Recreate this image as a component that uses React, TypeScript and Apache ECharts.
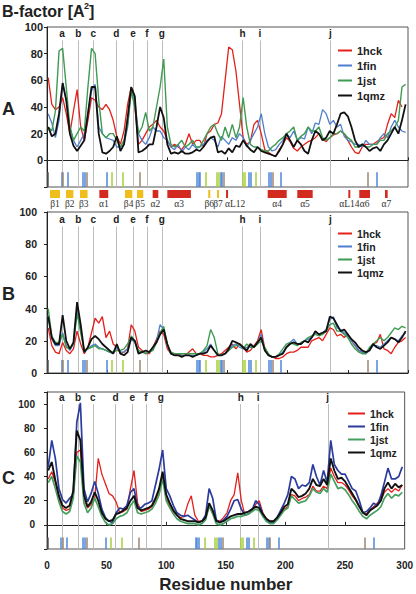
import React, { useEffect, useRef } from "react";
import * as echarts from "echarts";

// residue sampling grid (every 3 residues)
const RESIDUES: number[] = Array.from({ length: 100 }, (_, i) => 1 + 3 * i);

// ---------- Panel A ----------
const A_HCK = [
  62, 42, 38, 40, 47, 35, 20, 37, 53, 25,
  15, 30, 47, 45, 40, 38, 42, 38, 30, 18,
  12, 22, 42, 55, 40, 12, 15, 20, 25, 27,
  30, 25, 22, 15, 10, 12, 10, 8, 12, 20,
  12, 15, 15, 10, 20, 22, 27, 28, 35, 60,
  85, 83, 67, 42, 17, 12, 14, 27, 30, 20,
  8, 6, 4, 3, 8, 12, 17, 14, 9, 7,
  10, 12, 14, 15, 17, 20, 16, 14, 17, 19,
  20, 22, 20, 15, 10, 6, 5, 10, 12, 12,
  12, 14, 16, 17, 27, 35, 32, 45, 40, null,
];
const A_FIN = [
  35, 28, 17, 30, 58, 45, 25, 15, 10, 15,
  20, 35, 52, 57, 25, 20, 17, 16, 15, 10,
  10, 12, 25, 52, 45, 20, 15, 12, 17, 25,
  22, 22, 17, 15, 10, 8, 12, 6, 10, 8,
  12, 9, 10, 12, 15, 17, 15, 10, 18, 15,
  12, 17, 15, 20, 17, 10, 15, 20, 25, 35,
  20, 10, 7, 8, 12, 15, 20, 17, 22, 15,
  17, 16, 25, 20, 28, 27, 38, 35, 27, 30,
  25, 27, 18, 15, 14, 12, 12, 10, 15, 12,
  12, 12, 17, 20, 17, 25, 30, 25, 22, 21,
];
const A_JST = [
  25, 22, 37, 82, 84, 55, 25, 15, 20, 25,
  22, 55, 84, 80, 45, 20, 17, 20, 20, 15,
  10, 15, 27, 52, 40, 20, 25, 36, 22, 25,
  40, 55, 76, 25, 12, 10, 12, 15, 10, 12,
  15, 10, 10, 15, 20, 25, 27, 20, 15, 25,
  17, 27, 17, 25, 47, 25, 12, 10, 10, 8,
  7, 7, 10, 12, 15, 17, 20, 22, 25, 15,
  18, 20, 25, 22, 22, 25, 17, 15, 17, 20,
  20, 22, 20, 17, 15, 10, 10, 12, 10, 10,
  12, 12, 15, 15, 20, 22, 25, 30, 55, 57,
];
const A_QMZ = [
  25, 18, 20, 35, 58, 45, 20, 11, 7, 11,
  15, 35, 55, 55, 20, 6, 5, 7, 10, 18,
  7, 12, 32, 55, 48, 6, 7, 9, 12, 12,
  25, 40, 32, 12, 5, 6, 5, 7, 5, 5,
  6, 8, 7, 10, 14, 17, 18, 6, 7, 5,
  9, 6, 11, 10, 15, 11, 8, 6, 10, 7,
  6, 5, 4, 3, 7, 12, 20, 15, 10, 15,
  12, 7, 5, 15, 22, 20, 15, 17, 22, 20,
  27, 35, 36, 33, 25, 15, 10, 12, 10, 7,
  9, 10, 7, 12, 15, 20, 25, 20, 30, 42,
];

// ---------- Panel B ----------
const B_HCK = [
  28, 17, 13, 12, 19, 14, 12, 15, 26, 18,
  12, 16, 25, 34, 31, 35, 22, 26, 18, 16,
  12, 13, 15, 30, 26, 16, 14, 12, 12, 16,
  21, 26, 24, 15, 12, 11, 12, 11, 11, 13,
  15, 12, 12, 11, 11, 10, 10, 11, 12, 14,
  16, 18, 15, 18, 16, 13, 14, 17, 20, 27,
  15, 11, 10, 9, 9, 10, 12, 13, 13, 14,
  16, 16, 16, 20, 21, 22, 20, 24, 28, 27,
  23, 24, 22, 24, 20, 17, 14, 13, 12, 15,
  18, 19, 24, 15, 14, 12, 16, 19, 20, 22,
];
const B_FIN = [
  36, 21, 17, 17, 25, 17, 14, 18, 40, 27,
  13, 15, 17, 18, 16, 15, 14, 13, 12, 16,
  13, 13, 15, 21, 19, 13, 13, 13, 13, 15,
  20, 30, 27, 17, 12, 11, 11, 11, 11, 11,
  11, 11, 12, 13, 15, 18, 14, 11, 11, 12,
  14, 17, 18, 16, 15, 16, 17, 16, 19, 24,
  14, 11, 10, 10, 11, 13, 16, 19, 21, 18,
  18, 20, 21, 22, 25, 24, 25, 27, 33, 35,
  28, 27, 25, 23, 20, 17, 14, 13, 12, 14,
  17, 17, 16, 18, 20, 22, 21, 20, 23, 25,
];
const B_JST = [
  40, 23, 19, 19, 24, 16, 15, 18, 37, 25,
  14, 15, 16, 17, 15, 15, 14, 13, 13, 14,
  14, 15, 18, 23, 20, 14, 13, 12, 13, 14,
  19, 25, 29, 17, 13, 12, 12, 12, 12, 12,
  12, 12, 12, 14, 17, 27, 22, 12, 11, 12,
  14, 16, 17, 18, 15, 18, 16, 16, 18, 20,
  16, 12, 10, 10, 12, 15, 18, 19, 18, 17,
  19, 20, 22, 23, 24, 23, 24, 26, 30, 31,
  26, 26, 24, 22, 18, 15, 13, 12, 12, 16,
  18, 20, 22, 20, 22, 25, 28, 27, 29, 28,
];
const B_QMZ = [
  35, 22, 18, 18, 36, 20, 15, 19, 44, 30,
  13, 16, 21, 23, 21, 18, 16, 14, 12, 18,
  12, 11, 13, 22, 20, 12, 13, 14, 13, 16,
  19, 24, 27, 18, 12, 11, 11, 10, 11, 11,
  10, 11, 12, 12, 13, 17, 14, 11, 11, 12,
  15, 20, 19, 18, 16, 14, 18, 16, 19, 22,
  14, 11, 10, 10, 11, 12, 16, 18, 19, 18,
  18, 20, 19, 22, 26, 24, 25, 26, 35, 34,
  30, 26, 27, 24, 21, 19, 16, 14, 13, 14,
  18, 16, 15, 17, 19, 22, 21, 19, 22, 26,
];

// ---------- Panel C ----------
const C_HCK = [
  38, 44, 35, 22, 14, 12, 13, 25, 60, 62,
  22, 14, 17, 22, 55, 42, 34, 26, 24, 19,
  10, 11, 13, 30, 45, 18, 11, 12, 13, 15,
  20, 28, 40, 22, 16, 11, 8, 6, 7, 17,
  24, 8, 3, 3, 5, 15, 10, 4, 3, 6,
  10, 20, 25, 43, 20, 8, 9, 12, 17, 20,
  10, 5, 3, 3, 5, 9, 13, 15, 25, 24,
  20, 22, 23, 25, 32, 28, 28, 32, 30, 47,
  40, 35, 35, 33, 29, 24, 20, 15, 10, 9,
  12, 15, 18, 20, 27, 30, 27, 30, 28, 33,
];
const C_FIN = [
  48, 70, 55, 30, 21, 18, 22, 25, 85, 101,
  30, 19, 26, 36, 26, 13, 6, 3, 2, 10,
  14, 13, 16, 27, 30, 15, 14, 17, 18, 20,
  33, 46, 62, 30, 24, 16, 10, 8, 7, 8,
  6, 4, 2, 3, 8, 30, 22, 4, 2, 4,
  7, 13, 20, 21, 13, 8, 9, 12, 20, 17,
  9, 4, 2, 2, 6, 12, 18, 25, 40, 38,
  30, 33, 32, 35, 50, 40, 33, 45, 35, 70,
  50, 45, 42, 42, 36, 30, 28, 20, 10, 11,
  14, 18, 16, 24, 35, 47, 38, 38, 40, 48,
];
const C_JST = [
  35, 40, 30, 19, 11, 9, 11, 22, 57, 52,
  18, 10, 14, 22, 15, 7, 2, 0, 1, 5,
  7, 8, 10, 16, 20, 10, 9, 10, 11, 13,
  18, 25, 38, 20, 14, 9, 5, 3, 2, 1,
  1, 1, 0, 1, 4, 16, 9, 1, 0, 1,
  3, 5, 6, 7, 7, 8, 9, 11, 13, 12,
  7, 3, 1, 1, 4, 8, 12, 14, 24, 21,
  18, 19, 20, 24, 30, 27, 26, 30, 27, 42,
  36, 30, 31, 29, 25, 20, 16, 11, 7, 5,
  8, 10, 12, 15, 22, 26, 22, 25, 24, 27,
];
const C_QMZ = [
  45, 52, 37, 24, 16, 14, 16, 28, 78, 70,
  25, 15, 19, 27, 20, 10, 5, 3, 4, 9,
  10, 12, 14, 20, 24, 14, 12, 13, 14, 16,
  22, 30, 44, 25, 18, 12, 8, 5, 4, 3,
  3, 3, 2, 3, 6, 18, 12, 3, 2, 3,
  5, 7, 8, 9, 9, 10, 11, 13, 15, 14,
  9, 5, 3, 3, 6, 10, 15, 17, 30, 27,
  23, 24, 26, 30, 38, 33, 32, 38, 33, 55,
  45, 38, 39, 36, 31, 26, 21, 15, 10, 8,
  12, 14, 16, 20, 30, 35, 30, 34, 31, 33,
];

const SERIES_NAMES = ["1hck", "1fin", "1jst", "1qmz"];

// reference lines a..j
const MARK_LETTERS = ["a", "b", "c", "d", "e", "f", "g", "h", "i", "j"];
const MARK_RES = [12.5, 26, 38.5, 57.5, 71.5, 83, 95.5, 162.5, 177, 235.5];

// coloured residue ticks (b = blue, g = green, n = brown, k = dark)
const TICK_RES = [0.8, 11.9, 13.5, 16.9, 29.9, 31.3, 33, 49.6, 53.8, 62.9, 77, 124.4, 125.7, 127.1, 131.9, 141, 142.4, 144.4, 145.6, 147.1, 162.3, 164, 167.9, 169.5, 173.4, 184.5, 185.9, 187.2, 194.5, 266.5, 274];
const TICK_KIND = ["k", "b", "n", "b", "b", "b", "n", "b", "g", "g", "n", "b", "b", "b", "g", "g", "g", "b", "b", "n", "g", "g", "b", "b", "g", "b", "b", "n", "b", "n", "b"];

// secondary structure (0 = strand, 1 = helix)
const SS_NAMES = ["β1", "β2", "β3", "α1", "β4", "β5", "α2", "α3", "β6", "β7", "αL12", "α4", "α5", "αL14", "α6", "α7"];
const SS_START = [2.5, 15.8, 27.4, 43.5, 64.8, 74.8, 87.8, 100, 134, 141.3, 148.8, 183.4, 208, 250.4, 259.5, 280.9];
const SS_END = [10.8, 21.9, 33.7, 50.9, 70.9, 80, 92.5, 119.6, 135.5, 142.7, 150.4, 199.2, 220.8, 251.8, 268.4, 283.1];
const SS_TYPE = [0, 0, 0, 1, 0, 0, 1, 1, 0, 0, 1, 1, 1, 1, 1, 1];

const FONT = "'Liberation Sans', Arial, Helvetica, sans-serif";
const SERIF = "'Liberation Serif', 'Times New Roman', serif";
const TICK_COLORS: Record<string, string> = { b: "#4f86d8", g: "#a6cf3c", n: "#9c8670", k: "#555555" };

export default function App() {
  const ref = useRef<HTMLDivElement>(null);

  useEffect(() => {
    if (!ref.current) return;
    const chart = echarts.init(ref.current, undefined, { renderer: "svg" });

    const grids = [
      { left: 47, top: 27, width: 361, height: 160 },
      { left: 47, top: 212, width: 361, height: 161 },
      { left: 47, top: 392, width: 361, height: 164 },
      { left: 47, top: 190, width: 361, height: 8 },
    ];
    const yRanges = [
      { min: -20, max: 100 },
      { min: 0, max: 100 },
      { min: -20, max: 110 },
    ];
    const letterTop = [90, 91, 100];
    const tickTop = [-9, 8, -10.5];
    const labelFont = [11, 10.5, 10];
    const labelMargin = [4, 10, 12];

    const panels = [
      { data: [A_HCK, A_FIN, A_JST, A_QMZ], colors: ["#e3201b", "#4f7fcc", "#3f9b52", "#111111"], widths: [1.3, 1.3, 1.4, 1.8] },
      { data: [B_HCK, B_FIN, B_JST, B_QMZ], colors: ["#e3201b", "#4f7fcc", "#3f9b52", "#111111"], widths: [1.3, 1.3, 1.4, 1.8] },
      { data: [C_HCK, C_FIN, C_JST, C_QMZ], colors: ["#e3201b", "#2b3b9e", "#45a060", "#111111"], widths: [1.3, 1.7, 1.7, 1.9] },
    ];

    const xAxes: any[] = [0, 1, 2].map((gi) => ({
      type: "value",
      gridIndex: gi,
      min: 0,
      max: 300,
      interval: 50,
      axisLine: { show: true, lineStyle: { color: "#222", width: 1 } },
      axisTick: { show: true, inside: true, length: 3, lineStyle: { color: "#222" } },
      axisLabel: gi === 2
        ? { show: true, fontFamily: FONT, fontWeight: "bold", fontSize: 10, color: "#222", margin: 11 }
        : { show: false },
      splitLine: { show: false },
      name: gi === 2 ? "Residue number" : "",
      nameLocation: "middle",
      nameGap: 27,
      nameTextStyle: { fontFamily: FONT, fontWeight: "bold", fontSize: 17, color: "#222" },
    }));
    xAxes.push({ type: "value", gridIndex: 3, min: 0, max: 300, show: false });

    const yAxes: any[] = [0, 1, 2].map((gi) => ({
      type: "value",
      gridIndex: gi,
      min: yRanges[gi].min,
      max: yRanges[gi].max,
      interval: 20,
      axisLine: { show: true, lineStyle: { color: "#222", width: 1 } },
      axisTick: { show: true, inside: false, length: 3, lineStyle: { color: "#222" } },
      axisLabel: {
        show: true,
        fontFamily: FONT,
        fontWeight: "bold",
        fontSize: labelFont[gi],
        color: "#222",
        margin: labelMargin[gi],
        formatter: (v: number) => (v < 0 || v > 100 ? "" : String(v)),
      },
      splitLine: { show: false },
    }));
    yAxes.push({ type: "value", gridIndex: 3, min: 0, max: 1, show: false });

    const series: any[] = [];
    panels.forEach((p, gi) => {
      p.data.forEach((vals, si) => {
        const s: any = {
          type: "line",
          name: SERIES_NAMES[si],
          xAxisIndex: gi,
          yAxisIndex: gi,
          data: RESIDUES.map((r, i) => [r, vals[i]]),
          showSymbol: false,
          symbol: "none",
          connectNulls: false,
          z: 3 + si,
          itemStyle: { color: p.colors[si] },
          lineStyle: { color: p.colors[si], width: p.widths[si] },
        };
        if (si === 0) {
          s.markLine = {
            silent: true,
            symbol: ["none", "none"],
            z: 1,
            lineStyle: { color: "#bdbdbd", width: 1, type: "solid" },
            label: {
              show: true,
              position: "end",
              distance: 2,
              formatter: "{b}",
              fontFamily: FONT,
              fontWeight: "bold",
              fontSize: 10,
              color: "#222",
            },
            data: MARK_RES.map((r, i) => [
              { name: MARK_LETTERS[i], coord: [r, yRanges[gi].min] },
              { coord: [r, letterTop[gi]] },
            ]),
          };
        }
        if (si === 1) {
          s.markLine = {
            silent: true,
            symbol: ["none", "none"],
            z: 2,
            label: { show: false },
            data: TICK_RES.map((r, i) => [
              { coord: [r, yRanges[gi].min], lineStyle: { color: TICK_COLORS[TICK_KIND[i]], width: 1.5, type: "solid" } },
              { coord: [r, tickTop[gi]], lineStyle: { color: TICK_COLORS[TICK_KIND[i]], width: 1.5, type: "solid" } },
            ]),
          };
        }
        series.push(s);
      });
    });

    series.push({
      type: "custom",
      name: "ss",
      xAxisIndex: 3,
      yAxisIndex: 3,
      clip: false,
      data: SS_START.map((s, i) => [s, SS_END[i], SS_TYPE[i]]),
      renderItem: (params: any, api: any) => {
        const p0 = api.coord([api.value(0), 1]);
        const p1 = api.coord([api.value(1), 0]);
        const name = SS_NAMES[params.dataIndex];
        const w = Math.max(p1[0] - p0[0], 2);
        const cx = p0[0] + w / 2;
        const leftAlign = name === "αL12";
        return {
          type: "group",
          children: [
            {
              type: "rect",
              shape: { x: p0[0], y: p0[1], width: w, height: p1[1] - p0[1] },
              style: { fill: api.value(2) === 0 ? "#f0be1c" : "#d22a1f" },
            },
            {
              type: "text",
              x: leftAlign ? p0[0] - 1 : cx,
              y: p1[1] + 1,
              style: {
                text: name,
                fill: "#333",
                font: `9.5px ${SERIF}`,
                align: leftAlign ? "left" : "center",
                verticalAlign: "top",
              },
            },
          ],
        };
      },
    });

    const legendBase = (left: number, top: number, fontSize: number, lh: number, gap: number, w: number, colors: string[]) => ({
      show: true,
      orient: "vertical",
      left,
      top,
      icon: "rect",
      itemWidth: w,
      itemHeight: 2,
      itemGap: gap,
      textStyle: { fontFamily: FONT, fontWeight: "bold", fontSize, color: "#222", lineHeight: lh },
      data: SERIES_NAMES.map((n, i) => ({ name: n, itemStyle: { color: colors[i] } })),
      selectedMode: false,
    });

    const option: any = {
      animation: false,
      textStyle: { fontFamily: FONT },
      grid: grids.map((g, i) => ({
        ...g,
        show: i < 3,
        borderColor: "#555",
        borderWidth: 1,
        backgroundColor: "transparent",
      })),
      xAxis: xAxes,
      yAxis: yAxes,
      legend: [
        legendBase(333, 39, 11, 13, 2, 14, panels[0].colors),
        legendBase(333, 222, 10.5, 13, 0, 14, panels[1].colors),
        legendBase(343, 402, 10.5, 13, 0, 17, panels[2].colors),
      ],
      graphic: [
        { type: "text", left: 2, top: 3, style: { text: "B-factor [A", font: `bold 16px ${FONT}`, fill: "#222" } },
        { type: "text", left: 84, top: 1, style: { text: "2", font: `bold 9px ${FONT}`, fill: "#222" } },
        { type: "text", left: 89, top: 3, style: { text: "]", font: `bold 16px ${FONT}`, fill: "#222" } },
        { type: "text", left: 2, top: 100, style: { text: "A", font: `bold 18px ${FONT}`, fill: "#222" } },
        { type: "text", left: 2, top: 285, style: { text: "B", font: `bold 18px ${FONT}`, fill: "#222" } },
        { type: "text", left: 2, top: 469, style: { text: "C", font: `bold 18px ${FONT}`, fill: "#222" } },
      ],
      series,
    };

    chart.setOption(option);
    return () => chart.dispose();
  }, []);

  return (
    <div
      ref={ref}
      style={{ position: "absolute", left: 0, top: 0, width: 416, height: 594, background: "#fff" }}
    />
  );
}
